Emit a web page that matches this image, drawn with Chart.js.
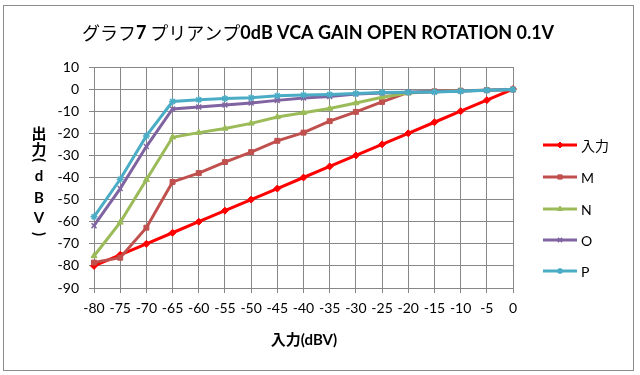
<!DOCTYPE html>
<html>
<head>
<meta charset="utf-8">
<script src="https://cdn.jsdelivr.net/npm/chart.js@4/dist/chart.umd.min.js"></script>
<style>
  html, body { margin: 0; padding: 0; background: #fff; }
  #wrap { width: 640px; height: 375px; position: relative; }
</style>
</head>
<body>
<div id="wrap"><canvas id="chart" width="640" height="375"></canvas></div>
<script>
// Données
const categories = ['-80', '-75', '-70', '-65', '-60', '-55', '-50', '-45', '-40', '-35', '-30', '-25', '-20', '-15', '-10', '-5', '0'];
const seriesNames = ['入力', 'M', 'N', 'O', 'P'];
const inputValues = [-80, -75, -70, -65, -60, -55, -50, -45, -40, -35, -30, -25, -20, -15, -10, -5, 0];
const mValues = [-78.5, -76.3, -62.7, -42, -38, -33, -28.5, -23.4, -19.7, -14.5, -10.3, -5.8, -1.5, -1, -0.7, -0.5, -0.2];
const nValues = [-75.5, -60.3, -41, -21.8, -19.7, -17.8, -15.5, -12.6, -10.7, -8.8, -6.3, -3.7, -1.8, -1.2, -0.8, -0.5, -0.2];
const oValues = [-61.8, -45, -26, -9, -8.1, -7.2, -6.3, -5.1, -4, -3.3, -2.2, -1.8, -1.4, -1.2, -0.9, -0.5, -0.2];
const pValues = [-57.8, -40.8, -21.2, -5.6, -4.8, -4.3, -3.9, -3.0, -2.7, -2.4, -2.0, -1.5, -1.4, -1.3, -1.0, -0.5, -0.2];
const yMin = -90;
const yMax = 10;
const yStep = 10;

const titleParts = [['グラフ', false], ['7', true], [' プリアンプ', false], ['0dB VCA GAIN OPEN ROTATION 0.1V', true]];
const yTitleChars = ['出', '力', '(', 'd', 'B', 'V', ')'];
const xTitle = '入力(dBV)';

const colors = ['#FF0000', '#C0504D', '#9BBB59', '#8064A2', '#4BACC6'];
const markers = ['rectRot', 'rect', 'triangle', 'crossRot', 'star'];
const allValues = [inputValues, mValues, nValues, oValues, pValues];

const latin = 'Lato, "Noto Sans CJK JP", sans-serif';
const cjk = '"Noto Sans CJK JP", sans-serif';
const gridColor = '#878787';

/**
 * Dessine le cadre, les titres et la légende
 */
const decorPlugin = {
    id: 'decor',
    afterDraw(chart) {
        const ctx = chart.ctx;
        ctx.save();

        // Cadre extérieur
        ctx.strokeStyle = '#8c8c8c';
        ctx.lineWidth = 1;
        ctx.strokeRect(3.5, 5.5, 630, 365);

        // Titre principal (poids mélangés)
        ctx.fillStyle = '#000';
        ctx.textBaseline = 'middle';
        ctx.textAlign = 'left';
        const fontFor = (bold) => bold ? 'bold 18px ' + latin : '18px ' + cjk;
        let total = 0;
        titleParts.forEach(([t, b]) => { ctx.font = fontFor(b); total += ctx.measureText(t).width; });
        let x = 318 - total / 2;
        titleParts.forEach(([t, b]) => {
            ctx.font = fontFor(b);
            ctx.fillText(t, x, 33);
            x += ctx.measureText(t).width;
        });

        // Titre de l'axe Y (vertical, empilé)
        const yPos = [134, 150, 160, 176, 198, 218, 234];
        ctx.textAlign = 'center';
        yTitleChars.forEach((c, i) => {
            ctx.font = 'bold 15px ' + latin;
            if (c === '(' || c === ')') {
                ctx.save();
                ctx.translate(39, yPos[i]);
                ctx.rotate(Math.PI / 2);
                ctx.fillText(c, 0, 0);
                ctx.restore();
            } else {
                ctx.fillText(c, 39, yPos[i]);
            }
        });

        // Titre de l'axe X
        ctx.font = 'bold 15px ' + latin;
        ctx.fillText(xTitle, 304, 340);

        // Légende
        const rowY = [145, 177, 209, 240, 271];
        chart.data.datasets.forEach((ds, i) => {
            const y = rowY[i];
            ctx.strokeStyle = ds.borderColor;
            ctx.lineWidth = 3;
            ctx.beginPath();
            ctx.moveTo(543, y);
            ctx.lineTo(577, y);
            ctx.stroke();
            if (Chart.helpers && Chart.helpers.drawPoint) {
                ctx.fillStyle = ds.borderColor;
                ctx.lineWidth = ds.pointBorderWidth;
                Chart.helpers.drawPoint(ctx, {pointStyle: ds.pointStyle, radius: 3, rotation: 0, borderWidth: ds.pointBorderWidth}, 560, y);
            }
            ctx.fillStyle = '#000';
            ctx.textAlign = 'left';
            ctx.font = '14px ' + latin;
            ctx.fillText(ds.label, 581, y + 1);
        });

        ctx.restore();
    }
};

const datasets = seriesNames.map((name, i) => ({
    label: name,
    data: allValues[i],
    borderColor: colors[i],
    backgroundColor: colors[i],
    borderWidth: 3,
    pointStyle: markers[i],
    pointRadius: 3.5,
    pointBorderWidth: markers[i] === 'crossRot' || markers[i] === 'star' ? 1.5 : 1,
    pointBackgroundColor: colors[i],
    pointBorderColor: colors[i],
    tension: 0,
    fill: false,
    order: 5 - i
}));

new Chart(document.getElementById('chart').getContext('2d'), {
    type: 'line',
    data: {
        labels: categories,
        datasets: datasets
    },
    options: {
        responsive: false,
        animation: false,
        devicePixelRatio: 1,
        layout: {
            padding: { top: 67, right: 127, left: 0, bottom: 0 }
        },
        plugins: {
            legend: { display: false },
            title: { display: false },
            tooltip: { enabled: false }
        },
        scales: {
            x: {
                type: 'category',
                offset: false,
                afterFit: (s) => { s.height = 87; },
                grid: {
                    color: gridColor,
                    offset: false,
                    tickLength: 5
                },
                border: { color: gridColor },
                ticks: {
                    color: '#000',
                    font: { family: latin, size: 14 },
                    maxRotation: 0,
                    autoSkip: false,
                    padding: 7
                }
            },
            y: {
                min: yMin,
                max: yMax,
                afterFit: (s) => { s.width = 94; },
                grid: {
                    color: gridColor,
                    tickLength: 5
                },
                border: { color: gridColor },
                ticks: {
                    stepSize: yStep,
                    color: '#000',
                    font: { family: latin, size: 14 },
                    padding: 10
                }
            }
        }
    },
    plugins: [decorPlugin]
});
</script>
</body>
</html>
